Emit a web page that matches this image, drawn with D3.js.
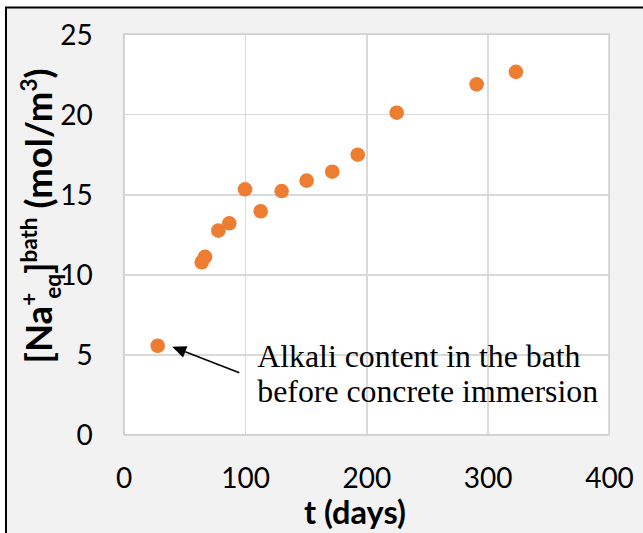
<!DOCTYPE html>
<html>
<head>
<meta charset="utf-8">
<script src="https://d3js.org/d3.v7.min.js"></script>
<style>
body { margin: 0; background: #ffffff; }
.tick-lbl { font-family: Lato, "Open Sans", sans-serif; font-size: 28px; fill: #000; }
.grid line { stroke: #d9d9d9; stroke-width: 1.5; shape-rendering: crispEdges; }
.grid path { display: none; }
</style>
</head>
<body>
<div id="chart"></div>
<script>
var days   = [28, 64.3, 67, 78, 87, 100, 112.9, 130.2, 150.8, 171.9, 192.9, 225, 290.9, 323.3];
var naBath = [5.55, 10.76, 11.1, 12.73, 13.19, 15.31, 13.94, 15.2, 15.85, 16.41, 17.47, 20.09, 21.86, 22.64];
var xTicks = [0, 100, 200, 300, 400];
var yTicks = [0, 5, 10, 15, 20, 25];
var noteLines = ["Alkali content in the bath", "before concrete immersion"];

var W = 643, H = 533;
var plot = {left: 123.7, right: 609, top: 34, bottom: 434.7};

var svg = d3.select("#chart").append("svg")
    .attr("width", W)
    .attr("height", H);

// chart area + cropped frame (only top/left edges visible)
svg.append("rect")
    .attr("x", 6).attr("y", 7.5)
    .attr("width", W + 20).attr("height", H + 20)
    .attr("fill", "#f2f2f2")
    .attr("stroke", "#000").attr("stroke-width", 2);

var x = d3.scaleLinear().domain([0, 400]).range([plot.left, plot.right]),
    y = d3.scaleLinear().domain([0, 25]).range([plot.bottom, plot.top]);

svg.append("rect")
    .attr("x", plot.left).attr("y", plot.top)
    .attr("width", plot.right - plot.left)
    .attr("height", plot.bottom - plot.top)
    .attr("fill", "#fff");

// gridlines
svg.append("g")
    .attr("class", "grid")
    .attr("transform", "translate(0," + plot.bottom + ")")
    .call(d3.axisBottom(x).tickValues(xTicks).tickSize(-(plot.bottom - plot.top)).tickFormat(""));
svg.append("g")
    .attr("class", "grid")
    .attr("transform", "translate(" + plot.left + ",0)")
    .call(d3.axisLeft(y).tickValues(yTicks).tickSize(-(plot.right - plot.left)).tickFormat(""));

svg.append("rect")
    .attr("x", plot.left).attr("y", plot.top)
    .attr("width", plot.right - plot.left)
    .attr("height", plot.bottom - plot.top)
    .attr("fill", "none")
    .attr("stroke", "#d0d0d0").attr("stroke-width", 1.5);

// tick labels
var xAx = svg.append("g")
    .attr("transform", "translate(0," + plot.bottom + ")")
    .call(d3.axisBottom(x).tickValues(xTicks).tickSize(0).tickPadding(33));
xAx.select(".domain").remove();
xAx.selectAll("text").attr("class", "tick-lbl");
xAx.attr("font-size", null).attr("font-family", null);

var yAx = svg.append("g")
    .attr("transform", "translate(" + plot.left + ",0)")
    .call(d3.axisLeft(y).tickValues(yTicks).tickSize(0).tickPadding(31));
yAx.select(".domain").remove();
yAx.selectAll("text").attr("class", "tick-lbl").attr("dy", "0.36em");
yAx.attr("font-size", null).attr("font-family", null);

// points
svg.append("g")
  .selectAll("circle")
    .data(days)
  .enter().append("circle")
    .attr("cx", function(d) { return x(d); })
    .attr("cy", function(d, i) { return y(naBath[i]); })
    .attr("r", 7.3)
    .attr("fill", "#ED7D31");

// x title
svg.append("text")
    .attr("x", 355).attr("y", 523.5)
    .attr("text-anchor", "middle")
    .attr("font-family", "Lato, sans-serif")
    .attr("font-weight", "bold")
    .attr("font-size", "32.5px")
    .text("t (days)");

// y title with super/subscripts
var fs = 36.5, sfs = 22.5;
var yt = svg.append("text")
    .attr("transform", "translate(51.7,216) rotate(-90)")
    .attr("text-anchor", "middle")
    .attr("font-family", "Lato, sans-serif")
    .attr("font-weight", "bold")
    .attr("font-size", fs + "px");
yt.append("tspan").text("[Na");
yt.append("tspan").attr("font-size", sfs + "px").attr("dy", -15).text("+");
yt.append("tspan").attr("font-size", sfs + "px").attr("dx", -6).attr("dy", 24).text("eq");
yt.append("tspan").attr("dy", -9).text("]");
yt.append("tspan").attr("font-size", sfs + "px").attr("dy", -15).text("bath");
yt.append("tspan").attr("dy", 15).text(" (mol/m");
yt.append("tspan").attr("font-size", sfs + "px").attr("dy", -15).text("3");
yt.append("tspan").attr("dy", 15).text(")");

// annotation
var note = svg.append("text")
    .attr("font-family", "'Liberation Serif', 'Times New Roman', serif")
    .attr("font-size", "31.8px")
    .attr("fill", "#000");
note.selectAll("tspan")
    .data(noteLines)
  .enter().append("tspan")
    .attr("x", 257.3)
    .attr("y", function(d, i) { return 367 + i * 35; })
    .text(function(d) { return d; });

// arrow pointing at the first measurement
var tipX = x(days[0]) + 14.5, tipY = y(naBath[0]) + 1;
var tailX = 239.3, tailY = 372.7;
var ang = Math.atan2(tipY - tailY, tipX - tailX);
var hl = 14, hw = 6;
var bx = tipX - hl * Math.cos(ang), by = tipY - hl * Math.sin(ang);
svg.append("line")
    .attr("x1", tailX).attr("y1", tailY)
    .attr("x2", bx).attr("y2", by)
    .attr("stroke", "#000").attr("stroke-width", 1.5);
svg.append("path")
    .attr("d", "M" + tipX + "," + tipY +
               "L" + (bx + hw * Math.sin(ang)) + "," + (by - hw * Math.cos(ang)) +
               "L" + (bx - hw * Math.sin(ang)) + "," + (by + hw * Math.cos(ang)) + "Z")
    .attr("fill", "#000");
</script>
</body>
</html>
